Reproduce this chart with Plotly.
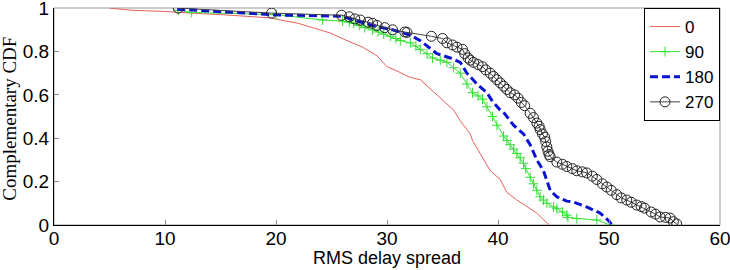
import plotly.graph_objects as go

# ---- data ----
x0 = [5.0, 7.0, 9.8, 11.0, 13.0, 15.0, 17.7, 19.5, 20.4, 22.0, 23.3, 24.9, 26.4, 27.8, 29.1, 30.0,
      30.9, 32.1, 33.0, 34.1, 35.4, 36.0, 36.6, 37.5, 37.7, 38.6, 39.3, 40.2, 40.8, 41.7, 42.6, 43.5, 44.4, 44.6]
y0 = [1.0, 0.99, 0.985, 0.98, 0.975, 0.97, 0.96, 0.955, 0.945, 0.93, 0.91, 0.885, 0.85, 0.82, 0.78, 0.73,
      0.71, 0.68, 0.67, 0.62, 0.56, 0.53, 0.48, 0.42, 0.39, 0.31, 0.25, 0.21, 0.15, 0.115, 0.083, 0.055, 0.01, 0.0]

x90 = [11.2, 12.4, 20.0, 24.2, 26.0, 26.6, 27.0, 27.5, 28.0, 28.7, 29.2, 29.7, 30.3, 30.8, 31.2, 32.1, 32.6,
       33.0, 33.6, 34.1, 34.8, 35.4, 36.0, 36.6, 37.2, 37.7, 38.2, 38.6, 39.0, 39.5, 39.9, 40.5, 40.8, 41.1,
       41.4, 41.7, 42.0, 42.3, 42.5, 42.9, 43.2, 43.5, 43.8, 44.1, 44.4, 45.0, 45.3, 45.8, 46.2, 46.3, 47.1,
       48.9, 50.1]
y90 = [0.99, 0.98, 0.97, 0.945, 0.94, 0.935, 0.93, 0.92, 0.91, 0.90, 0.89, 0.88, 0.87, 0.86, 0.85, 0.84, 0.825,
       0.81, 0.79, 0.77, 0.76, 0.75, 0.725, 0.70, 0.65, 0.61, 0.595, 0.58, 0.545, 0.50, 0.46, 0.41, 0.39, 0.37,
       0.35, 0.33, 0.31, 0.285, 0.26, 0.22, 0.19, 0.16, 0.13, 0.115, 0.10, 0.083, 0.075, 0.06, 0.045, 0.035, 0.03,
       0.023, 0.0]

x180 = [11.1, 19.5, 20.4, 25.8, 27.0, 28.7, 30.5, 32.1, 33.0, 34.5, 35.7, 36.6, 37.2, 38.1, 39.0, 39.5, 40.2,
        40.5, 41.4, 42.3, 42.9, 43.5, 44.1, 44.7, 45.3, 46.2, 46.8, 48.0, 49.2, 49.9, 50.3]
y180 = [0.995, 0.97, 0.968, 0.963, 0.945, 0.92, 0.90, 0.875, 0.85, 0.79, 0.77, 0.75, 0.70, 0.65, 0.61, 0.57, 0.53,
        0.52, 0.46, 0.42, 0.37, 0.30, 0.25, 0.16, 0.13, 0.11, 0.106, 0.083, 0.055, 0.023, 0.0]

x270 = [11.2, 19.6, 25.9, 26.6, 27.1, 27.6, 28.3, 28.7, 29.1, 29.8, 30.5, 31.6, 31.8, 34.0, 35.0, 35.4, 35.9,
        36.3, 36.8, 37.0, 37.3, 37.5, 37.8, 38.2, 38.6, 38.9, 39.3, 39.6, 39.9, 40.2, 40.5, 40.8, 41.1, 41.5,
        41.8, 42.1, 42.4, 42.9, 43.2, 43.5, 43.7, 43.8, 44.0, 44.2, 44.3, 44.4, 44.5, 44.6, 44.7, 45.3, 45.8,
        46.2, 46.7, 47.1, 47.6, 48.0, 48.5, 48.9, 49.4, 49.8, 50.2, 50.7, 51.1, 51.6, 52.0, 52.5, 52.9, 53.2,
        53.8, 54.2, 54.6, 55.1, 55.5, 55.8, 56.1]
y270 = [1.0, 0.977, 0.967, 0.96, 0.95, 0.945, 0.935, 0.93, 0.92, 0.91, 0.90, 0.89, 0.888, 0.87, 0.86, 0.84, 0.83,
        0.82, 0.81, 0.79, 0.77, 0.76, 0.75, 0.74, 0.73, 0.715, 0.70, 0.685, 0.67, 0.655, 0.64, 0.625, 0.61, 0.60,
        0.585, 0.565, 0.55, 0.515, 0.495, 0.47, 0.455, 0.44, 0.42, 0.405, 0.385, 0.36, 0.34, 0.325, 0.315, 0.29, 0.28,
        0.27, 0.26, 0.25, 0.245, 0.24, 0.225, 0.21, 0.19, 0.175, 0.16, 0.14, 0.125, 0.115, 0.105, 0.092, 0.085, 0.078,
        0.06, 0.05, 0.037, 0.035, 0.032, 0.015, 0.005]

names = ["0", "90", "180", "270"]
x_ticks = [0, 10, 20, 30, 40, 50, 60]
y_ticks = [0, 0.2, 0.4, 0.6, 0.8, 1]
y_tick_text = ["0", "0.2", "0.4", "0.6", "0.8", "1"]
x_title = "RMS delay spread"
y_title = "Complementary CDF"

fig = go.Figure()
fig.add_trace(go.Scatter(x=x0, y=y0, name=names[0], mode="lines",
                         line=dict(color="#e8605c", width=1)))
fig.add_trace(go.Scatter(x=x90, y=y90, name=names[1], mode="lines+markers",
                         line=dict(color="#33e033", width=1),
                         marker=dict(symbol="cross-thin-open", size=7, color="#33e033",
                                     line=dict(color="#33e033", width=1))))
fig.add_trace(go.Scatter(x=x180, y=y180, name=names[2], mode="lines",
                         line=dict(color="#0a14d0", width=3, dash="8px,4px")))
fig.add_trace(go.Scatter(x=x270, y=y270, name=names[3], mode="lines+markers",
                         line=dict(color="#444444", width=1),
                         marker=dict(symbol="circle-open", size=10, color="#222222",
                                     line=dict(color="#222222", width=1))))

font_sans = "Liberation Sans, Arial, sans-serif"
fig.update_layout(
    width=730, height=270,
    margin=dict(l=54, r=10, t=8, b=45, autoexpand=False),
    paper_bgcolor="white", plot_bgcolor="white",
    font=dict(family=font_sans, size=19, color="black"),
    showlegend=True,
    legend=dict(x=1, y=1, xanchor="right", yanchor="top",
                bgcolor="white", bordercolor="black", borderwidth=1,
                font=dict(family=font_sans, size=17, color="black"),
                itemwidth=30, tracegroupgap=0),
    xaxis=dict(range=[0, 60], tickvals=x_ticks, ticks="inside", ticklen=5,
               tickcolor="#888888", showgrid=False, zeroline=False, automargin=False,
               showline=True, linecolor="black", linewidth=1, mirror=False,
               ticklabeloverflow="allow", ticklabelstandoff=-4, tickfont=dict(size=19)),
    yaxis=dict(range=[0, 1.0005], tickvals=y_ticks, ticktext=y_tick_text, ticks="inside", ticklen=5,
               tickcolor="#888888", showgrid=False, zeroline=False, automargin=False,
               showline=True, linecolor="black", linewidth=1, mirror=False,
               ticklabeloverflow="allow", tickfont=dict(size=19)),
    shapes=[dict(type="rect", xref="paper", yref="paper", x0=0, y0=0, x1=1, y1=1,
                 line=dict(color="#999999", width=1), layer="below")],
    annotations=[
        dict(text=x_title, xref="paper", yref="paper", x=0.5, y=-0.153, yanchor="middle",
             xanchor="center", showarrow=False, font=dict(family=font_sans, size=18)),
        dict(text=y_title, xref="paper", yref="paper", x=-0.066, y=0.49, xanchor="center",
             yanchor="middle", textangle=-90, showarrow=False,
             font=dict(family="Liberation Serif, Times New Roman, serif", size=19)),
    ],
)

fig.write_html("out.html", config={"displayModeBar": False},
               post_script="document.body.style.margin='0';")
